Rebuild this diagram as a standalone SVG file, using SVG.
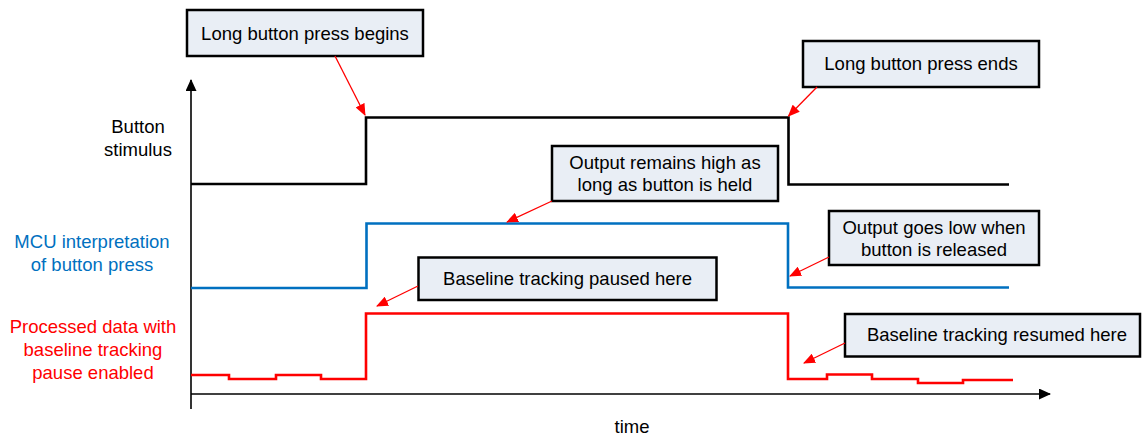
<svg xmlns="http://www.w3.org/2000/svg" width="1142" height="436" viewBox="0 0 1142 436">
<style>
text{font-family:"Liberation Sans",Arial,sans-serif;font-size:18.5px;fill:#000}
.c{text-anchor:middle}
.box{fill:#E9EEF5;stroke:#000;stroke-width:2.5}
.lead{stroke:#FF0000;stroke-width:1.3;fill:none;marker-end:url(#rh)}
.wave{fill:none;stroke-width:2.6;stroke-linejoin:miter}
.axis{stroke:#000;stroke-width:1.6;fill:none}
</style>
<defs>
<marker id="rh" viewBox="0 0 12 10" refX="11" refY="5" markerWidth="12" markerHeight="10" markerUnits="userSpaceOnUse" orient="auto">
<path d="M0,0 L12,5 L0,10 Z" fill="#FF0000"/>
</marker>
<marker id="ah" viewBox="0 0 12 11" refX="11" refY="5.5" markerWidth="12" markerHeight="11" markerUnits="userSpaceOnUse" orient="auto">
<path d="M0,0 L12,5.5 L0,11 Z" fill="#000"/>
</marker>
</defs>
<rect width="1142" height="436" fill="#fff"/>
<g id="axes">
<line class="axis" x1="191" y1="409" x2="191" y2="80" marker-end="url(#ah)"/>
<line class="axis" x1="191" y1="394" x2="1050" y2="394" marker-end="url(#ah)"/>
<text class="c" x="632" y="433">time</text>
</g>
<g id="labels">
<text class="c" x="138" y="133">Button</text>
<text class="c" x="138" y="156">stimulus</text>
<text class="c" x="92" y="248" style="fill:#0070C0">MCU interpretation</text>
<text class="c" x="92" y="271" style="fill:#0070C0">of button press</text>
<text class="c" x="93" y="333" style="fill:#FF0000">Processed data with</text>
<text class="c" x="93" y="356" style="fill:#FF0000">baseline tracking</text>
<text class="c" x="93" y="379" style="fill:#FF0000">pause enabled</text>
</g>
<g id="waveforms">
<polyline id="button" class="wave" stroke="#000" points="191,184 366,184 366,117.5 788.5,117.5 788.5,184.5 1009,184.5"/>
<polyline id="mcu" class="wave" stroke="#0070C0" points="191,288 366.5,288 366.5,223.5 788,223.5 788,287.5 1009,287.5"/>
<polyline id="processed" class="wave" stroke="#FF0000" points="191,375 229,375 229,379 276,379 276,375 321,375 321,379 366,379 366,313.5 788,313.5 788,379 827,379 827,374.5 872,374.5 872,379 918,379 918,383 963,383 963,380 1013,380"/>
</g>
<g id="n1">
<rect class="box" x="187" y="10" width="236" height="46"/>
<text class="c" x="305" y="39.5">Long button press begins</text>
</g>
<g id="n2">
<rect class="box" x="803" y="41" width="236" height="46"/>
<text class="c" x="921" y="69.5">Long button press ends</text>
</g>
<g id="n3">
<rect class="box" x="552" y="146" width="226" height="55"/>
<text class="c" x="665" y="168.5">Output remains high as</text>
<text class="c" x="665" y="191">long as button is held</text>
</g>
<g id="n4">
<rect class="box" x="829" y="211" width="210" height="54"/>
<text class="c" x="934" y="233.5">Output goes low when</text>
<text class="c" x="934" y="255.5">button is released</text>
</g>
<g id="n5">
<rect class="box" x="418.5" y="257.5" width="298" height="42.5"/>
<text class="c" x="567.5" y="284.5">Baseline tracking paused here</text>
</g>
<g id="n6">
<rect class="box" x="845" y="314" width="295" height="42.5"/>
<text class="c" x="997" y="341">Baseline tracking resumed here</text>
</g>
<g id="connectors">
<line class="lead" x1="335" y1="56" x2="365" y2="115"/>
<line class="lead" x1="817" y1="87" x2="788.5" y2="116"/>
<line class="lead" x1="552" y1="201" x2="507" y2="222"/>
<line class="lead" x1="829" y1="257" x2="790" y2="276"/>
<line class="lead" x1="418" y1="286" x2="377" y2="306"/>
<line class="lead" x1="845" y1="343" x2="804" y2="363"/>
</g>
</svg>
